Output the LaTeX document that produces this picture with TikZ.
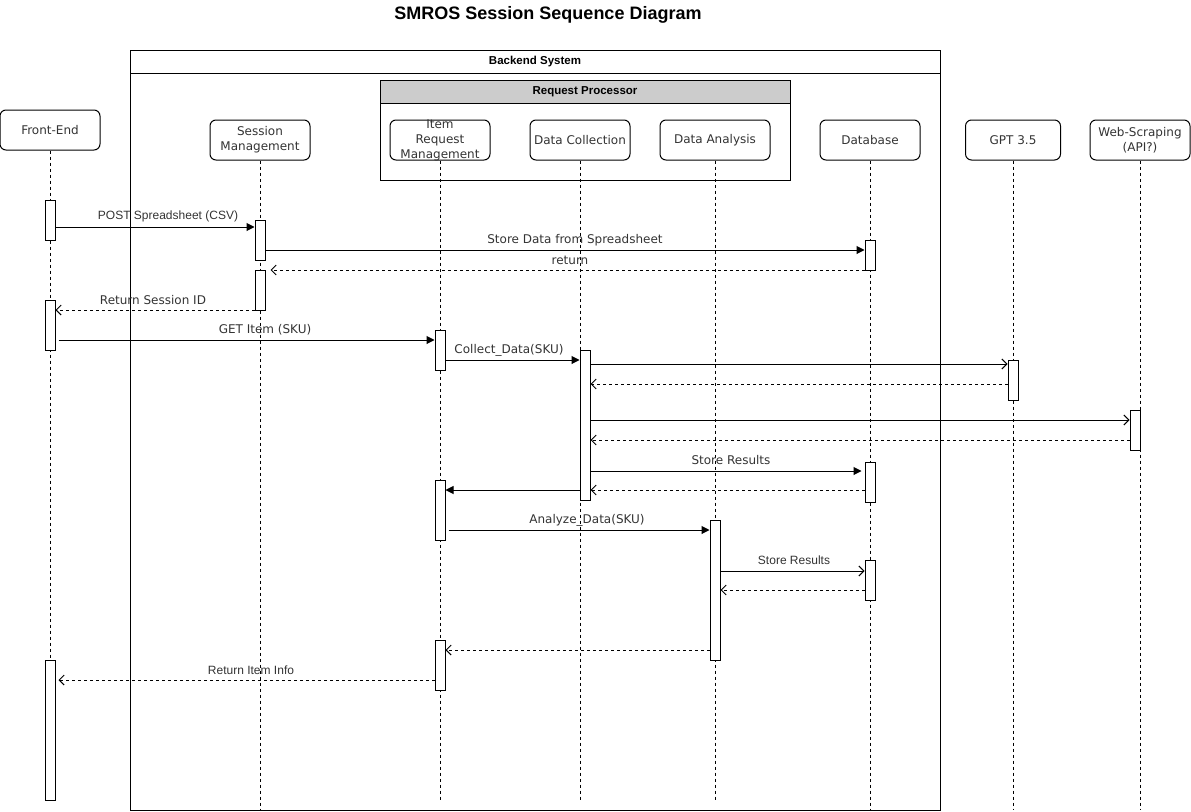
\documentclass[tikz,border=0pt]{standalone}
\usepackage{fontspec}
\setmainfont{Liberation Sans}
\newfontfamily\dvfont{DejaVu Sans}
\newfontfamily\libfont{Liberation Sans}
\usetikzlibrary{arrows.meta}
\definecolor{hdrgray}{HTML}{CCCCCC}
\definecolor{txtgray}{HTML}{333333}
\tikzset{
  part/.style={draw, rounded corners=6pt, minimum width=100pt, minimum height=40pt, align=center, inner sep=1pt, font=\dvfont\fontsize{12}{15}\selectfont, text=txtgray},
  partlbl/.style={align=center, inner sep=0pt, font=\dvfont\fontsize{12}{15}\selectfont, text=txtgray},
  act/.style={draw, fill=white, minimum width=10pt, inner sep=0pt},
  life/.style={dash pattern=on 3pt off 3pt},
  sync/.style={-{Triangle[length=8pt,width=8pt]}},
  openarr/.style={-{Straight Barb[length=5pt,width=10pt]}},
  ret/.style={dash pattern=on 3pt off 3pt, -{Straight Barb[length=5pt,width=10pt]}},
  lbl/.style={font=\libfont\fontsize{12}{14}\selectfont, text=txtgray, inner sep=0pt},
  lblv/.style={font=\dvfont\fontsize{12}{14}\selectfont, text=txtgray, inner sep=0pt},
  hdr/.style={font=\libfont\bfseries\fontsize{11.5}{13}\selectfont, inner sep=0pt}
}
\begin{document}
\begin{tikzpicture}[x=1pt,y=-1pt, line width=1pt]
\useasboundingbox (0,0) rectangle (1191,811);
% title
\node[font=\libfont\bfseries\fontsize{18}{21}\selectfont, inner sep=0pt] (title) at (548,15) {SMROS Session Sequence Diagram};
% backend frame
\node[draw, minimum width=810pt, minimum height=760pt, anchor=north west, inner sep=0pt] (backend) at (130,50) {};
\node[draw, minimum width=810pt, minimum height=23pt, anchor=north west, inner sep=0pt] (backendhdr) at (130,50) {};
\node[hdr] (backendlbl) at (535,62) {Backend System};
% request processor
\node[draw, minimum width=410pt, minimum height=100pt, anchor=north west, inner sep=0pt] (rp) at (380,80) {};
\node[draw, fill=hdrgray, minimum width=410pt, minimum height=23pt, anchor=north west, inner sep=0pt] (rphdr) at (380,80) {};
\node[hdr] (rplbl) at (585,91.5) {Request Processor};
% participants
\node[part] (fe) at (50,130) {Front-End};
\node[part] (sm) at (260,140) {Session\\Management};
\node[part] (irm) at (440,140) {};
\node[partlbl] (irmlbl) at (440,140) {Item\\Request\\Management};
\node[part] (dc) at (580,140) {Data Collection};
\node[part, minimum width=110pt] (da) at (715,140) {Data Analysis};
\node[part] (db) at (870,140) {Database};
\node[part, minimum width=95pt] (gpt) at (1013,140) {GPT 3.5};
\node[part] (ws) at (1140,140) {Web-Scraping\\(API?)};
% lifelines
\coordinate (feend) at (50,800);
\coordinate (smend) at (260,810);
\coordinate (irmend) at (440,800);
\coordinate (dcend) at (580,800);
\coordinate (daend) at (715,800);
\coordinate (dbend) at (870,810);
\coordinate (gptend) at (1013,810);
\coordinate (wsend) at (1140,810);
\draw[life] (fe.south) -- (feend);
\draw[life] (sm.south) -- (smend);
\draw[life] (irm.south) -- (irmend);
\draw[life] (dc.south) -- (dcend);
\draw[life] (da.south) -- (daend);
\draw[life] (db.south) -- (dbend);
\draw[life] (gpt.south) -- (gptend);
\draw[life] (ws.south) -- (wsend);
% activations
\node[act, minimum height=40pt] (fe1) at (50,220) {};
\node[act, minimum height=50pt] (fe2) at (50,325) {};
\node[act, minimum height=140pt] (fe3) at (50,730) {};
\node[act, minimum height=40pt] (sm1) at (260,240) {};
\node[act, minimum height=40pt] (sm2) at (260,290) {};
\node[act, minimum height=30pt] (db1) at (870,255) {};
\node[act, minimum height=40pt] (db2) at (870,482) {};
\node[act, minimum height=40pt] (db3) at (870,580) {};
\node[act, minimum height=40pt] (irm1) at (440,350) {};
\node[act, minimum height=60pt] (irm2) at (440,510) {};
\node[act, minimum height=50pt] (irm3) at (440,665) {};
\node[act, minimum height=150pt] (dc1) at (585,425) {};
\node[act, minimum height=140pt] (da1) at (715,590) {};
\node[act, minimum height=40pt] (gpt1) at (1013,380) {};
\node[act, minimum height=40pt] (ws1) at (1135,430) {};
% messages
\draw[sync] (fe1.east |- 0,227) -- (sm1.west |- 0,227);
\node[lbl] (m1) at (168,216) {POST Spreadsheet (CSV)};
\draw[sync] (sm1.east |- 0,250) -- (db1.west |- 0,250);
\node[lblv] (m2) at (575,240) {Store Data from Spreadsheet};
\draw[ret] (db1.west |- 0,270) -- ([xshift=5pt]sm2.east |- 0,270);
\node[lblv] (m3) at (570,260) {return};
\draw[ret] (sm2.west |- 0,310) -- (fe2.east |- 0,310);
\node[lblv] (m4) at (153,300) {Return Session ID};
\draw[sync] ([xshift=3pt]fe2.east |- 0,340) -- (irm1.west |- 0,340);
\node[lblv] (m5) at (265,330) {GET Item (SKU)};
\draw[sync] (irm1.east |- 0,360) -- (dc1.west |- 0,360);
\node[lblv] (m6) at (509,350) {Collect\_Data(SKU)};
\draw[openarr] (dc1.east |- 0,364) -- (gpt1.west |- 0,364);
\draw[ret] (gpt1.west |- 0,384) -- (dc1.east |- 0,384);
\draw[openarr] (dc1.east |- 0,420) -- (ws1.west |- 0,420);
\draw[ret] (ws1.west |- 0,440) -- (dc1.east |- 0,440);
\draw[sync] (dc1.east |- 0,471) -- ([xshift=-3pt]db2.west |- 0,471);
\node[lblv] (m7) at (731,460) {Store Results};
\draw[ret] (db2.west |- 0,490) -- (dc1.east |- 0,490);
\draw[sync] (dc1.west |- 0,490) -- (irm2.east |- 0,490);
\draw[sync] ([xshift=3pt]irm2.east |- 0,530) -- (da1.west |- 0,530);
\node[lblv] (m8) at (587,520) {Analyze\_Data(SKU)};
\draw[openarr] (da1.east |- 0,571) -- (db3.west |- 0,571);
\node[lbl] (m9) at (794,560) {Store Results};
\draw[ret] (db3.west |- 0,590) -- (da1.east |- 0,590);
\draw[ret] (da1.west |- 0,650) -- (irm3.east |- 0,650);
\draw[ret] (irm3.west |- 0,680) -- ([xshift=3pt]fe3.east |- 0,680);
\node[lbl] (m10) at (251,670) {Return Item Info};
\end{tikzpicture}
\end{document}
